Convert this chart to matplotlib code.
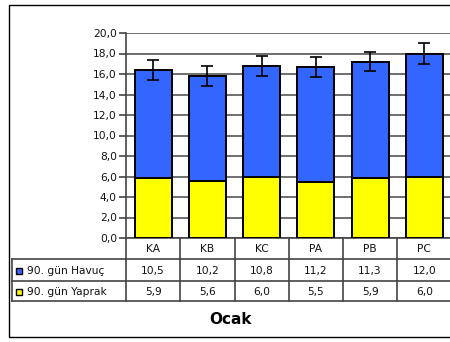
import matplotlib
matplotlib.use("Agg")
import matplotlib.pyplot as plt
from matplotlib.patches import Rectangle
from matplotlib.lines import Line2D

categories = ["KA", "KB", "KC", "PA", "PB", "PC"]
series_names = ["90. gün Havuç", "90. gün Yaprak"]
havuc = [10.5, 10.2, 10.8, 11.2, 11.3, 12.0]
yaprak = [5.9, 5.6, 6.0, 5.5, 5.9, 6.0]
errors = [0.95, 0.95, 0.95, 1.0, 0.9, 1.0]
yticks = [0, 2, 4, 6, 8, 10, 12, 14, 16, 18, 20]
title = "Ocak"

W, H = 450, 342
fig = plt.figure(figsize=(W / 100, H / 100), dpi=100)
plt.rcParams['font.family'] = ['DejaVu Sans']
FS = 7.7

def fx(x):
    return x / W

def fy(y):
    return 1 - y / H

# outer border
fig.add_artist(Rectangle((fx(9), fy(337)), fx(460) - fx(9), fy(5) - fy(337),
                         transform=fig.transFigure, fill=False, lw=1.0, ec='black'))

L, R, T, B = 126, 451.5, 33, 238
ax = fig.add_axes([fx(L), fy(B), fx(R) - fx(L), fy(T) - fy(B)])
n = len(categories)
xs = list(range(n))
blue = '#3366FF'
yellow = '#FFFF00'
bw = 0.68
totals = [h + y for h, y in zip(havuc, yaprak)]
ax.bar(xs, yaprak, width=bw, color=yellow, edgecolor='black', linewidth=1.4, zorder=3)
ax.bar(xs, havuc, bottom=yaprak, width=bw, color=blue, edgecolor='black', linewidth=1.4, zorder=3)
ax.errorbar(xs, totals, yerr=errors, fmt='none', ecolor='black', elinewidth=1.2,
            capsize=4.5, capthick=1.2, zorder=4)
ax.set_xlim(-0.5, n - 0.5)
ax.set_ylim(0, 20)
ax.set_yticks(yticks)
ax.set_yticklabels([f"{v:.1f}".replace('.', ',') for v in yticks], fontsize=FS, color='#111111')
ax.set_xticks([])
ax.yaxis.grid(True, color='#555555', lw=1.2, zorder=0)
ax.set_axisbelow(True)
for s in ['top', 'right']:
    ax.spines[s].set_visible(False)
ax.spines['left'].set_color('#444444')
ax.spines['bottom'].set_color('#444444')
ax.spines['left'].set_linewidth(1.2)
ax.spines['bottom'].set_linewidth(1.2)
ax.tick_params(axis='y', length=5, width=1.2, color='#444444', pad=1.5)

# table
tax = fig.add_axes([0, 0, 1, 1])
tax.set_xlim(0, W)
tax.set_ylim(H, 0)
tax.axis('off')
lc = '#444444'
r0, r1, r2, r3 = B, 259, 281, 301
cw = (R - L) / n
for i in range(n + 1):
    x = L + i * cw
    tax.add_line(Line2D([x, x], [r0, r3], color=lc, lw=1.2))
tax.add_line(Line2D([12, 12], [r1, r3], color=lc, lw=1.2))
for yy in (r1, r2, r3):
    tax.add_line(Line2D([12, R], [yy, yy], color=lc, lw=1.2))
for i, c in enumerate(categories):
    tax.text(L + (i + 0.5) * cw, (r0 + r1) / 2 + 1, c, ha='center', va='center',
             fontsize=FS, color='#111111')
rows = [havuc, yaprak]
cols = [blue, yellow]
for ri, (vals, ya, yb) in enumerate(zip(rows, [r1, r2], [r2, r3])):
    ym = (ya + yb) / 2 + 1
    tax.add_patch(Rectangle((16, ym - 3.5), 6, 6, facecolor=cols[ri], edgecolor='black', lw=1.0))
    tax.text(27, ym, series_names[ri], ha='left', va='center', fontsize=FS, color='#111111')
    for i, v in enumerate(vals):
        tax.text(L + (i + 0.5) * cw, ym, f"{v:.1f}".replace('.', ','), ha='center',
                 va='center', fontsize=FS, color='#111111')

tax.text(230, 320, title, ha='center', va='center', fontsize=11, fontweight='bold')

fig.savefig("out.png", dpi=100)
